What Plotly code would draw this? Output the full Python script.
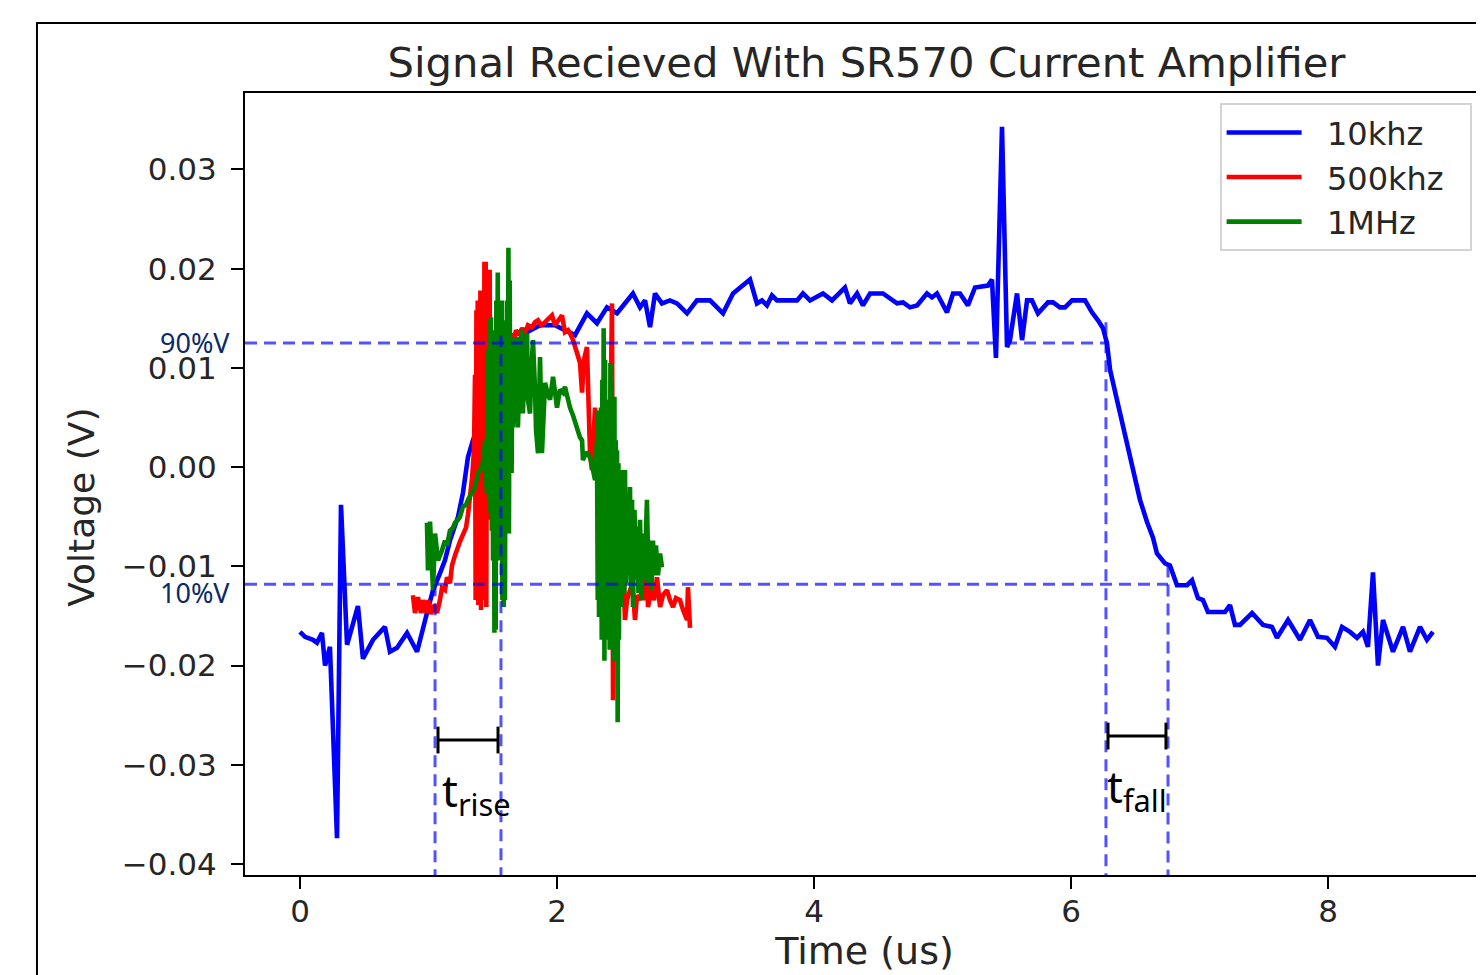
import plotly.graph_objects as go

# ---------------- data (time in us, voltage in V) ----------------
BLUE_T = [
    0.000, 0.039, 0.101, 0.132, 0.171, 0.195, 0.233, 0.288, 0.319, 0.366,
    0.451, 0.490, 0.568, 0.661, 0.700, 0.755, 0.833, 0.911, 0.988, 1.035,
    1.089, 1.128, 1.167, 1.230, 1.268, 1.307, 1.346, 1.416, 1.494, 1.572,
    1.650, 1.751, 1.868, 1.984, 2.062, 2.140, 2.233, 2.311, 2.389, 2.467,
    2.591, 2.646, 2.685, 2.724, 2.763, 2.817, 2.879, 2.934, 3.012, 3.089,
    3.191, 3.292, 3.370, 3.502, 3.556, 3.595, 3.634, 3.673, 3.712, 3.868,
    3.914, 3.969, 4.070, 4.140, 4.241, 4.280, 4.335, 4.381, 4.436, 4.537,
    4.646, 4.693, 4.747, 4.802, 4.879, 4.918, 4.957, 5.035, 5.082, 5.136,
    5.198, 5.253, 5.354, 5.385, 5.416, 5.463, 5.502, 5.525, 5.580, 5.619,
    5.658, 5.696, 5.743, 5.821, 5.860, 5.914, 5.953, 6.008, 6.109, 6.163,
    6.210, 6.249, 6.280, 6.304, 6.366, 6.420, 6.459, 6.498, 6.537, 6.591,
    6.638, 6.669, 6.732, 6.770, 6.825, 6.903, 6.942, 6.988, 7.027, 7.066,
    7.198, 7.237, 7.276, 7.315, 7.409, 7.494, 7.564, 7.603, 7.689, 7.782,
    7.860, 7.922, 7.992, 8.054, 8.109, 8.171, 8.226, 8.272, 8.311, 8.350,
    8.389, 8.428, 8.506, 8.584, 8.638, 8.716, 8.770, 8.817,
]
BLUE_V = [
    -0.0166, -0.0171, -0.0174, -0.0177, -0.0167, -0.0200, -0.0181, -0.0374, -0.0038, -0.0179,
    -0.0140, -0.0193, -0.0174, -0.0161, -0.0186, -0.0182, -0.0167, -0.0186, -0.0147, -0.0124,
    -0.0107, -0.0094, -0.0074, -0.0050, -0.0026, 0.0010, 0.0027, 0.0052, 0.0078, 0.0100,
    0.0120, 0.0135, 0.0143, 0.0143, 0.0138, 0.0133, 0.0155, 0.0145, 0.0161, 0.0155,
    0.0175, 0.0161, 0.0168, 0.0141, 0.0175, 0.0165, 0.0168, 0.0165, 0.0155, 0.0168,
    0.0168, 0.0155, 0.0175, 0.0189, 0.0165, 0.0168, 0.0163, 0.0173, 0.0168, 0.0168,
    0.0175, 0.0168, 0.0175, 0.0168, 0.0181, 0.0165, 0.0175, 0.0163, 0.0175, 0.0175,
    0.0165, 0.0166, 0.0161, 0.0163, 0.0175, 0.0171, 0.0175, 0.0156, 0.0175, 0.0175,
    0.0163, 0.0181, 0.0183, 0.0189, 0.0110, 0.0343, 0.0121, 0.0128, 0.0175, 0.0128,
    0.0168, 0.0168, 0.0155, 0.0166, 0.0166, 0.0161, 0.0161, 0.0168, 0.0168, 0.0156,
    0.0148, 0.0140, 0.0125, 0.0098, 0.0063, 0.0032, 0.0007, -0.0015, -0.0033, -0.0055,
    -0.0071, -0.0087, -0.0097, -0.0099, -0.0119, -0.0119, -0.0114, -0.0132, -0.0134, -0.0146,
    -0.0146, -0.0139, -0.0159, -0.0159, -0.0147, -0.0159, -0.0161, -0.0172, -0.0154, -0.0174,
    -0.0154, -0.0171, -0.0172, -0.0181, -0.0161, -0.0166, -0.0172, -0.0166, -0.0181, -0.0106,
    -0.0200, -0.0154, -0.0186, -0.0161, -0.0186, -0.0161, -0.0174, -0.0166,
]

RED_T = [
    0.879, 0.895, 0.918, 0.942, 0.957, 0.981, 0.996, 1.019, 1.043, 1.066,
    1.089, 1.105, 1.128, 1.144, 1.167, 1.183, 1.206, 1.230, 1.245, 1.268,
    1.292, 1.307, 1.323, 1.339, 1.354, 1.362, 1.367, 1.373, 1.377, 1.383,
    1.388, 1.393, 1.398, 1.404, 1.409, 1.414, 1.419, 1.424, 1.429, 1.435,
    1.440, 1.445, 1.450, 1.455, 1.460, 1.466, 1.471, 1.476, 1.481, 1.486,
    1.502, 1.518, 1.533, 1.549, 1.564, 1.580, 1.595, 1.611, 1.626, 1.642,
    1.650, 1.665, 1.681, 1.704, 1.728, 1.751, 1.774, 1.805, 1.829, 1.852,
    1.875, 1.907, 1.938, 1.961, 1.984, 2.008, 2.039, 2.062, 2.086, 2.101,
    2.125, 2.156, 2.179, 2.195, 2.210, 2.233, 2.249, 2.257, 2.272, 2.288,
    2.296, 2.311, 2.327, 2.342, 2.358, 2.374, 2.389, 2.397, 2.412, 2.420,
    2.428, 2.436, 2.444, 2.459, 2.475, 2.490, 2.506, 2.514, 2.529, 2.545,
    2.568, 2.591, 2.607, 2.623, 2.646, 2.669, 2.685, 2.700, 2.708, 2.731,
    2.755, 2.778, 2.802, 2.825, 2.856, 2.879, 2.903, 2.926, 2.957, 2.981,
    3.012, 3.019, 3.035,
]
RED_V = [
    -0.0129, -0.0147, -0.0131, -0.0147, -0.0134, -0.0147, -0.0134, -0.0148, -0.0139, -0.0147,
    -0.0134, -0.0122, -0.0124, -0.0111, -0.0117, -0.0099, -0.0089, -0.0082, -0.0075, -0.0068,
    -0.0061, -0.0048, -0.0033, -0.0011, 0.0017, 0.0093, -0.0134, 0.0158, -0.0132, 0.0168,
    -0.0139, 0.0148, -0.0134, 0.0178, -0.0144, 0.0138, -0.0094, 0.0178, -0.0134, 0.0207,
    -0.0123, 0.0207, -0.0141, 0.0168, -0.0053, 0.0138, 0.0007, 0.0199, -0.0053, 0.0017,
    -0.0003, 0.0068, 0.0037, 0.0088, 0.0108, 0.0123, 0.0118, 0.0133, 0.0123, 0.0135,
    0.0095, 0.0128, 0.0138, 0.0133, 0.0140, 0.0135, 0.0143, 0.0141, 0.0146, 0.0148,
    0.0143, 0.0146, 0.0150, 0.0153, 0.0143, 0.0148, 0.0153, 0.0136, 0.0138, 0.0135,
    0.0128, 0.0115, 0.0105, 0.0075, 0.0108, 0.0121, 0.0047, 0.0014, -0.0003, 0.0037,
    0.0060, 0.0027, -0.0003, 0.0012, -0.0013, -0.0003, 0.0027, 0.0007, 0.0034, 0.0088,
    0.0165, -0.0235, -0.0094, -0.0033, -0.0074, -0.0104, -0.0053, -0.0097, -0.0154, -0.0134,
    -0.0124, -0.0124, -0.0154, -0.0129, -0.0134, -0.0119, -0.0134, -0.0097, -0.0141, -0.0124,
    -0.0134, -0.0111, -0.0141, -0.0129, -0.0124, -0.0134, -0.0141, -0.0132, -0.0134, -0.0144,
    -0.0154, -0.0121, -0.0162,
]

GREEN_T = [
    0.988, 0.996, 1.012, 1.035, 1.051, 1.074, 1.105, 1.128, 1.144, 1.167,
    1.191, 1.206, 1.230, 1.245, 1.268, 1.292, 1.307, 1.339, 1.362, 1.385,
    1.401, 1.416,
    1.432, 1.440, 1.447, 1.455, 1.461, 1.466, 1.471, 1.476, 1.482, 1.486,
    1.492, 1.497, 1.502, 1.507, 1.513, 1.518, 1.523, 1.528, 1.533, 1.539,
    1.544, 1.549, 1.554, 1.560, 1.564, 1.570, 1.575, 1.580, 1.585, 1.591,
    1.595, 1.601, 1.606, 1.611, 1.616, 1.622, 1.626, 1.632, 1.637, 1.642,
    1.647, 1.653, 1.658,
    1.673, 1.689, 1.696, 1.712, 1.728, 1.735, 1.751, 1.767, 1.774, 1.790,
    1.805, 1.813, 1.829, 1.837, 1.852, 1.868, 1.883, 1.907, 1.930, 1.946,
    1.969, 2.000, 2.023, 2.047, 2.062, 2.086, 2.101, 2.125, 2.156, 2.179,
    2.195, 2.202, 2.226, 2.257, 2.280, 2.296,
    2.311, 2.317, 2.322, 2.327, 2.332, 2.338, 2.342, 2.348, 2.353, 2.358,
    2.363, 2.369, 2.374, 2.379, 2.384, 2.389, 2.395, 2.400, 2.405, 2.410,
    2.416, 2.420, 2.426, 2.431, 2.436, 2.441, 2.447, 2.451, 2.457, 2.462,
    2.467, 2.472, 2.478, 2.482, 2.488, 2.493, 2.498, 2.503, 2.509, 2.514,
    2.519, 2.524, 2.529, 2.537, 2.545, 2.552,
    2.568, 2.576, 2.584, 2.591, 2.603, 2.615, 2.623, 2.634, 2.646, 2.658,
    2.669, 2.681, 2.693, 2.700, 2.712, 2.724, 2.735, 2.747, 2.759, 2.770,
    2.786, 2.802, 2.817,
]
GREEN_V = [
    -0.0056, -0.0104, -0.0055, -0.0124, -0.0067, -0.0094, -0.0084, -0.0074, -0.0079, -0.0064,
    -0.0061, -0.0056, -0.0053, -0.0050, -0.0040, -0.0038, -0.0033, -0.0026, -0.0020, -0.0006,
    -0.0003, 0.0000,
    0.0012, 0.0027, -0.0013, -0.0026, 0.0047, 0.0118, -0.0033, 0.0148, -0.0046, 0.0151,
    -0.0064, 0.0128, -0.0094, 0.0138, -0.0167, 0.0118, -0.0164, 0.0168, -0.0074, 0.0196,
    -0.0053, 0.0168, -0.0094, 0.0145, -0.0074, 0.0168, -0.0134, 0.0138, -0.0141, 0.0148,
    -0.0134, 0.0138, -0.0053, 0.0168, -0.0013, 0.0221, -0.0067, 0.0188, -0.0006, 0.0128,
    -0.0006, 0.0131, 0.0040,
    0.0088, 0.0131, 0.0040, 0.0108, 0.0138, 0.0054, 0.0118, 0.0135, 0.0068, 0.0054,
    0.0108, 0.0128, 0.0078, 0.0037, 0.0014, 0.0111, 0.0014, 0.0085, 0.0073, 0.0068,
    0.0091, 0.0060, 0.0078, 0.0075, 0.0081, 0.0068, 0.0060, 0.0052, 0.0037, 0.0030,
    0.0027, 0.0007, 0.0015, 0.0010, -0.0003, -0.0013,
    0.0027, -0.0134, 0.0057, -0.0151, 0.0047, -0.0134, 0.0060, -0.0174, 0.0088, -0.0154,
    0.0140, -0.0195, 0.0108, -0.0134, 0.0068, -0.0174, 0.0034, -0.0144, 0.0068, -0.0184,
    0.0105, -0.0134, 0.0088, -0.0174, 0.0047, -0.0195, 0.0071, -0.0174, 0.0027, -0.0195,
    0.0017, -0.0257, 0.0004, -0.0174, -0.0013, -0.0134, -0.0020, -0.0141, -0.0003, -0.0124,
    -0.0033, -0.0127, -0.0003, -0.0117, -0.0053, -0.0109,
    -0.0020, -0.0124, -0.0033, -0.0141, -0.0043, -0.0113, -0.0060, -0.0127, -0.0053, -0.0134,
    -0.0067, -0.0113, -0.0053, -0.0033, -0.0117, -0.0074, -0.0124, -0.0074, -0.0109, -0.0079,
    -0.0109, -0.0087, -0.0101,
]

SERIES_NAMES = ["10khz", "500khz", "1MHz"]
SERIES_COLORS = ["#0000ff", "#ff0000", "#008000"]

Y_TICKS = [-0.04, -0.03, -0.02, -0.01, 0.00, 0.01, 0.02, 0.03]
X_TICKS = [0, 2, 4, 6, 8]

# threshold / timing annotation values
V90 = 0.0125
V10 = -0.0118
RISE_T = (1.051, 1.564)
FALL_T = (6.272, 6.755)

for a, b in [(BLUE_T, BLUE_V), (RED_T, RED_V), (GREEN_T, GREEN_V)]:
    assert len(a) == len(b), (len(a), len(b))

X_RANGE = [-0.428, 9.214]
Y_RANGE = [-0.0411, 0.0377]

fig = go.Figure()
PAD_L = "\u00a0\u00a0"
PAD_R = "\u00a0\u00a0"
for t, v, name, col in zip([BLUE_T, RED_T, GREEN_T], [BLUE_V, RED_V, GREEN_V],
                           SERIES_NAMES, SERIES_COLORS):
    fig.add_trace(go.Scatter(x=t, y=v, mode="lines", name=PAD_L + name + PAD_R,
                             line=dict(color=col, width=4.6)))

DASH = dict(color="rgba(0,0,255,0.68)", width=3, dash="12px,7px")
BOTTOM = -0.0413
shapes = [
    # outer frame
    dict(type="path", xref="paper", yref="paper",
         path="M -0.1679,-0.2 L -0.1679,1.0895 L 1.05,1.0895",
         line=dict(color="black", width=2)),
    # 90% / 10% levels
    dict(type="line", xref="x", yref="y", x0=X_RANGE[0], x1=6.29, y0=V90, y1=V90, line=DASH),
    dict(type="line", xref="x", yref="y", x0=X_RANGE[0], x1=FALL_T[1], y0=V10, y1=V10, line=DASH),
    # verticals
    dict(type="line", xref="x", yref="y", x0=RISE_T[0], x1=RISE_T[0], y0=V10, y1=BOTTOM, line=DASH),
    dict(type="line", xref="x", yref="y", x0=RISE_T[1], x1=RISE_T[1], y0=0.0133, y1=BOTTOM, line=DASH),
    dict(type="line", xref="x", yref="y", x0=FALL_T[0], x1=FALL_T[0], y0=0.0146, y1=BOTTOM, line=DASH),
    dict(type="line", xref="x", yref="y", x0=FALL_T[1], x1=FALL_T[1], y0=-0.0099, y1=BOTTOM, line=DASH),
]
# brackets
BR = dict(color="black", width=3)
for (xa, xb, yc) in [(1.074, 1.541, -0.0275), (6.288, 6.739, -0.0271)]:
    shapes.append(dict(type="line", xref="x", yref="y", x0=xa, x1=xb, y0=yc, y1=yc, line=BR))
    for xe in (xa, xb):
        shapes.append(dict(type="line", xref="x", yref="y", x0=xe, x1=xe,
                           y0=yc + 0.00135, y1=yc - 0.00135, line=BR))

NAVY = "#0b2a66"
TXT = "#262626"
annotations = [
    dict(text="90%V", xref="paper", yref="y", x=-0.0105, y=0.0126, xanchor="right",
         yanchor="middle", showarrow=False, font=dict(family="Noto Sans", size=27, color=NAVY)),
    dict(text="10%V", xref="paper", yref="y", x=-0.0105, y=-0.0126, xanchor="right",
         yanchor="middle", showarrow=False, font=dict(family="Noto Sans", size=27, color=NAVY)),
    dict(text="t<sub>rise</sub>", xref="x", yref="y", x=1.09, y=-0.0328, xanchor="left",
         yanchor="middle", showarrow=False, font=dict(family="Noto Sans", size=44, color="black")),
    dict(text="t<sub>fall</sub>", xref="x", yref="y", x=6.262, y=-0.0324, xanchor="left",
         yanchor="middle", showarrow=False, font=dict(family="Noto Sans", size=44, color="black")),
    # y-axis title
    dict(text="Voltage (V)", xref="paper", yref="y", x=-0.1316, y=-0.0040, xanchor="center",
         yanchor="middle", textangle=-90, showarrow=False,
         font=dict(family="DejaVu Sans", size=36, color=TXT)),
]

# the page adds an 8px body margin; the figure is sized so it fills the window
fig.update_layout(
    width=1476, height=967,
    margin=dict(l=237, r=0, t=85, b=100, autoexpand=False),
    paper_bgcolor="white", plot_bgcolor="white",
    title=dict(text="Signal Recieved With SR570 Current Amplifier", x=858.5 / 1476,
               xanchor="center", xref="container", y=1 - 54 / 967, yanchor="middle",
               yref="container", font=dict(family="DejaVu Sans", size=41.7, color=TXT)),
    font=dict(family="DejaVu Sans", color=TXT),
    showlegend=True,
    legend=dict(x=0.990, xanchor="right", y=0.987, yanchor="top", bgcolor="white",
                bordercolor="#d4d4d4", borderwidth=2,
                font=dict(family="DejaVu Sans", size=32, color=TXT), itemwidth=75),
    shapes=shapes, annotations=annotations,
    xaxis=dict(range=X_RANGE, tickvals=X_TICKS, ticks="outside", ticklen=12, tickwidth=2,
               tickcolor="black", showline=True, linecolor="black", linewidth=2, mirror=True,
               showgrid=False, zeroline=False, tickfont=dict(size=31, color=TXT),
               ticklabelstandoff=-4,
               title=dict(text="Time (us)", font=dict(size=38, color=TXT), standoff=2)),
    yaxis=dict(range=Y_RANGE, tickvals=Y_TICKS, tickformat=".2f", ticks="outside", ticklen=12,
               tickwidth=2, tickcolor="black", showline=True, linecolor="black", linewidth=2,
               mirror=False, showgrid=False, zeroline=False, tickfont=dict(size=31, color=TXT),
               ticklabelstandoff=8),
)

fig.write_html("out.html")
